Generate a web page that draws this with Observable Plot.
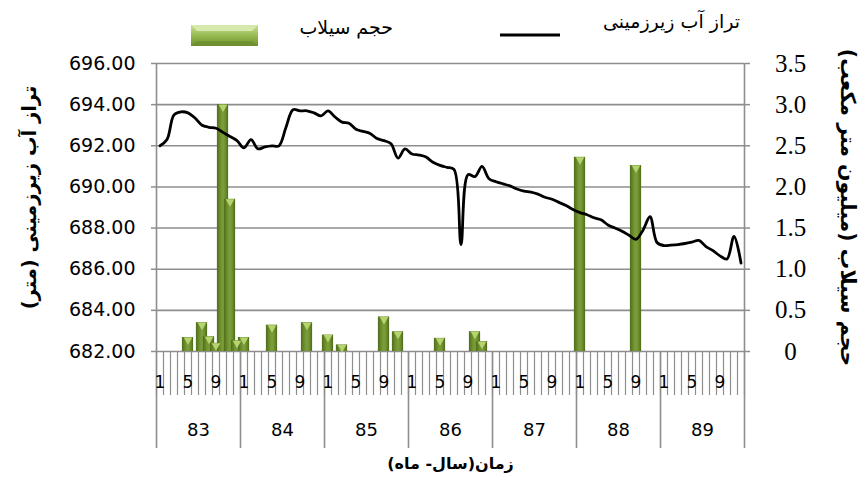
<!DOCTYPE html>
<html>
<head>
<meta charset="utf-8">
<script src="https://cdn.jsdelivr.net/npm/d3@7"></script>
<script src="https://cdn.jsdelivr.net/npm/@observablehq/plot@0.6"></script>
<style>
  html, body { margin: 0; padding: 0; background: #fff; }
  #wrap { position: relative; width: 864px; height: 486px; overflow: hidden; font-family: "DejaVu Sans", sans-serif; }
  #legend { position: relative; width: 864px; height: 50px; }
  .lg-text { position: absolute; direction: rtl; white-space: nowrap; font-family: "DejaVu Sans", sans-serif; font-size: 19px; line-height: 22px; color: #000; }
  #chart svg { display: block; }
</style>
</head>
<body>
<div id="wrap">
  <div id="legend">
    <svg width="864" height="50" style="position:absolute;left:0;top:0">
      <defs>
        <linearGradient id="swGrad" x1="0" x2="0" y1="0" y2="1">
          <stop offset="0" stop-color="#c9df93"/>
          <stop offset="0.5" stop-color="#97bb52"/>
          <stop offset="1" stop-color="#6f912f"/>
        </linearGradient>
      </defs>
      <rect x="191" y="25" width="67" height="21" fill="url(#swGrad)"/>
      <polygon points="191,25 258,25 252,31 197,31" fill="#d7e8ad"/>
      <polygon points="191,46 258,46 252,41 197,41" fill="#6a8a2b" opacity="0.6"/>
      <line x1="500" x2="560" y1="35" y2="35" stroke="#000" stroke-width="3"/>
    </svg>
    <div class="lg-text" id="lgBar" style="right:471px; top:16px;"></div>
    <div class="lg-text" id="lgLine" style="right:124px; top:10px;"></div>
  </div>
  <div id="chart"></div>
</div>
<script>
// ---------- data ----------
const years = ["83", "84", "85", "86", "87", "88", "89"];
const monthTicks = [1, 5, 9];
const leftTicks = [682, 684, 686, 688, 690, 692, 694, 696];
const rightTicks = [0, 0.5, 1.0, 1.5, 2.0, 2.5, 3.0, 3.5];

// groundwater level (m), monthly from 83/1 to 89/12
const level = [
  692.0, 692.3, 693.5, 693.65, 693.6, 693.35, 693.0, 692.9, 692.85, 692.65, 692.45, 692.25,
  691.9, 692.3, 691.85, 691.95, 692.0, 692.0, 692.9, 693.75, 693.7, 693.7, 693.6, 693.45,
  693.7, 693.4, 693.15, 693.1, 692.8, 692.7, 692.6, 692.35, 692.25, 692.1, 691.4, 691.85,
  691.6, 691.55, 691.45, 691.2, 691.05, 690.95, 690.85, 687.2, 690.6, 690.5, 691.0, 690.4,
  690.25, 690.15, 690.05, 689.9, 689.8, 689.75, 689.65, 689.5, 689.4, 689.25, 689.1, 688.9,
  688.75, 688.65, 688.5, 688.4, 688.15, 688.0, 687.85, 687.65, 687.45, 687.9, 688.55, 687.3,
  687.15, 687.17, 687.2, 687.25, 687.32, 687.4, 687.1, 686.9, 686.65, 686.5, 687.6, 686.3
];

// flood volume (million m3)
const floodYear   = [83, 83, 83, 83, 83, 83, 83, 84, 84, 84, 85, 85, 85, 85, 86, 86, 86, 88, 88];
const floodMonth  = [5, 7, 8, 9, 10, 11, 12, 1, 5, 10, 1, 3, 9, 11, 5, 10, 11, 1, 9];
const floodVolume = [0.17, 0.35, 0.18, 0.1, 3.0, 1.85, 0.13, 0.17, 0.32, 0.35, 0.2, 0.08, 0.42, 0.24, 0.16, 0.24, 0.12, 2.36, 2.26];

const legendBar = "حجم سیلاب";
const legendLine = "تراز آب زیرزمینی";
const leftTitle = "تراز آب زیرزمینی (متر)";
const rightTitle = "حجم سیلاب (میلیون متر مکعب)";
const xTitle = "زمان(سال- ماه)";

// ---------- build ----------
document.getElementById("lgBar").textContent = legendBar;
document.getElementById("lgLine").textContent = legendLine;

const leftMin = leftTicks[0], leftMax = leftTicks[leftTicks.length - 1];
const rightMax = rightTicks[rightTicks.length - 1];
const toLeft = v => leftMin + v * (leftMax - leftMin) / rightMax;

const series = level.map((v, i) => ({i, v}));
const bars = floodVolume.map((v, k) => ({
  i: (floodYear[k] - +years[0]) * 12 + floodMonth[k] - 1,
  v,
  y: toLeft(v)
}));
const nMonths = years.length * 12;
const half = 0.8;
const grid = "#8e8e8e";

const monthTickPos = years.flatMap((y, k) => monthTicks.map(m => k * 12 + m - 1));
const yearCenters = years.map((y, k) => k * 12 + 5.5);
const boundaries = d3.range(0, nMonths + 1).map(i => i - 0.5);
const yearBounds = d3.range(0, years.length + 1).map(k => k * 12 - 0.5);

const chart = Plot.plot({
  width: 864,
  height: 436,
  marginTop: 13,
  marginBottom: 135,
  marginLeft: 156,
  marginRight: 120,
  style: {fontFamily: "DejaVu Sans, sans-serif", background: "#fff", overflow: "visible"},
  x: {domain: [-0.5, nMonths - 0.5], axis: null, label: null},
  y: {domain: [leftMin, leftMax], axis: null, label: null},
  marks: [
    Plot.gridY({ticks: leftTicks, stroke: grid, strokeOpacity: 1, strokeWidth: 1.6}),
    Plot.ruleX([-0.5, nMonths - 0.5], {y1: leftMin, y2: leftMax, stroke: grid, strokeWidth: 1.6}),
    // left axis
    Plot.axisY({anchor: "left", ticks: leftTicks, tickSize: 5, tickPadding: 16, label: null,
      tickFormat: d => d.toFixed(2), fontSize: 19, stroke: grid, strokeWidth: 1.5, fill: "#000"}),
    // right axis ticks
    Plot.axisY({anchor: "right", ticks: leftTicks, tickSize: 5, label: null,
      tickFormat: () => "", stroke: grid, strokeWidth: 1.5}),
    Plot.text(rightTicks, {y: d => toLeft(d), text: d => d === 0 ? "0" : d.toFixed(1),
      frameAnchor: "right", dx: 46, textAnchor: "middle",
      fontFamily: "Liberation Serif, serif", fontSize: 25, fill: "#000"}),
    // multi-level x axis
    Plot.axisX({anchor: "bottom", ticks: boundaries, tickSize: 44, tickFormat: () => "",
      label: null, stroke: grid, strokeWidth: 1.2}),
    Plot.axisX({anchor: "bottom", ticks: yearBounds, tickSize: 97, tickFormat: () => "",
      label: null, stroke: grid, strokeWidth: 1.6}),
    Plot.axisX({anchor: "bottom", ticks: monthTickPos, tickSize: 0, tickPadding: 24,
      tickFormat: d => String(d % 12 + 1), label: null, fontSize: 17, fill: "#000"}),
    Plot.axisX({anchor: "bottom", ticks: yearCenters, tickSize: 0, tickPadding: 72,
      tickFormat: d => years[Math.round((d - 5.5) / 12)], label: null, fontSize: 18, fill: "#000"}),
    // bars
    Plot.rectY(bars, {x1: d => d.i - half, x2: d => d.i + half, y1: leftMin, y2: "y",
      fill: "url(#barGrad)"}),
    Plot.dot(bars, {x: "i", y: "y", symbol: "triangle", r: 3.2, rotate: 180, dy: 2.5,
      fill: "#b5d36e", stroke: "none"}),
    // line
    Plot.line(series, {x: "i", y: "v", stroke: "#000", strokeWidth: 2.8, curve: "catmull-rom"}),
    // titles
    Plot.text([leftTitle], {frameAnchor: "left", dx: -127, dy: -10, rotate: -90, textAnchor: "middle",
      fontSize: 19.5, fontWeight: "bold", fill: "#000"}),
    Plot.text([rightTitle], {frameAnchor: "right", dx: 103, dy: 0, rotate: 90, textAnchor: "middle",
      fontSize: 20.5, fontWeight: "bold", fill: "#000"}),
    Plot.text([xTitle], {frameAnchor: "bottom", dy: 117, textAnchor: "middle",
      fontSize: 16, fontWeight: "bold", fill: "#000"})
  ]
});

d3.select(chart).insert("defs", ":first-child").html(`
  <linearGradient id="barGrad" x1="0" x2="1" y1="0" y2="0">
    <stop offset="0" stop-color="#4f6c1c"/>
    <stop offset="0.3" stop-color="#6d8f2c"/>
    <stop offset="0.55" stop-color="#7d9f3c"/>
    <stop offset="0.8" stop-color="#6a8b2a"/>
    <stop offset="1" stop-color="#4c6819"/>
  </linearGradient>`);

document.getElementById("chart").appendChild(chart);
</script>
</body>
</html>
